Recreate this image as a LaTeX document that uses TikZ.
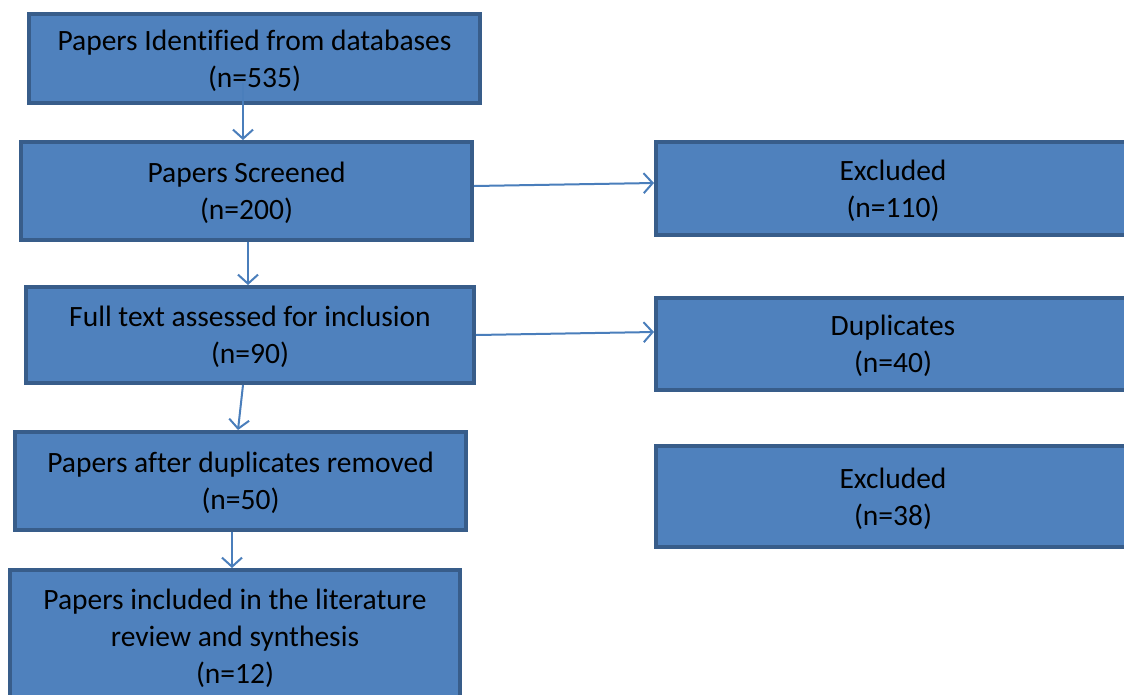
\documentclass[tikz,border=0pt]{standalone}
\usepackage{fontspec}
\setmainfont[Ligatures={NoCommon}]{Carlito}
\usetikzlibrary{arrows.meta}
\definecolor{boxfill}{HTML}{4F81BD}
\definecolor{boxline}{HTML}{385D8A}
\definecolor{arrowline}{HTML}{4A7EBB}
\begin{document}
\begin{tikzpicture}[x=1pt,y=1pt,
        stage/.style={draw=boxline, fill=boxfill, line width=4pt, align=center,
        inner sep=0pt, font=\fontsize{29.5}{37}\selectfont, text depth=-7pt},
        flow/.style={draw=arrowline, line width=2pt,
        -{Straight Barb[length=9pt,width=20pt,line width=2pt]}}]
        \useasboundingbox (0,0) rectangle (1124,-694);
        \node[stage, minimum width=451, minimum height=89] (ident) at (254.5,-58.5)
        {Papers Identified from databases\\(n=535)};
        \node[stage, minimum width=451, minimum height=98] (screen) at (246.5,-191)
        {Papers Screened\\(n=200)};
        \node[stage, minimum width=448, minimum height=96] (full) at (250,-335)
        {Full text assessed for inclusion\\(n=90)};
        \node[stage, minimum width=451, minimum height=98] (dedup) at (240.5,-481)
        {Papers after duplicates removed\\(n=50)};
        \node[stage, minimum width=450, minimum height=132] (incl) at (235,-636)
        {Papers included in the literature\\review and synthesis\\(n=12)};
        \node[stage, minimum width=474, minimum height=93] (excla) at (893,-188.5)
        {Excluded\\(n=110)};
        \node[stage, minimum width=474, minimum height=92] (dupl) at (893,-344)
        {Duplicates\\(n=40)};
        \node[stage, minimum width=474, minimum height=101] (exclb) at (893,-496.5)
        {Excluded\\(n=38)};
        \coordinate (start) at ([xshift=-11.5pt,yshift=22pt]ident.south);
        \draw[flow] (start) -- ([xshift=-3.5pt]screen.north);
        \draw[flow] ([xshift=1.5pt]screen.south) -- ([xshift=-2pt]full.north);
        \draw[flow] ([xshift=-7pt]full.south) -- ([xshift=-2.5pt]dedup.north);
        \draw[flow] ([xshift=-8.5pt]dedup.south) -- ([xshift=-3pt]incl.north);
        \draw[flow] ([yshift=5pt]screen.east) -- ([yshift=5.5pt]excla.west);
        \draw[flow] (full.east) -- ([yshift=12pt]dupl.west);
\end{tikzpicture}
\end{document}
